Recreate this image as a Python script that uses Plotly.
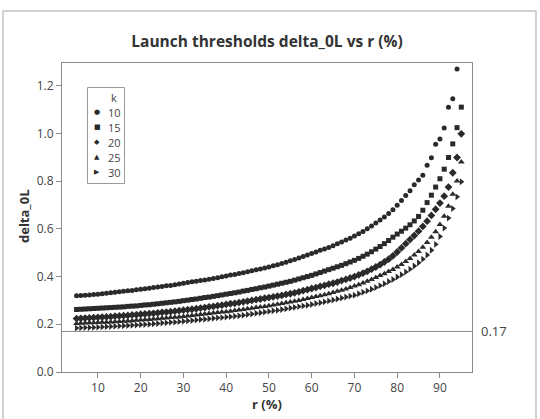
import plotly.graph_objects as go

r_values = list(range(5, 96))

k_labels = ["10", "15", "20", "25", "30"]

delta_k10 = [
    0.320, 0.321, 0.322, 0.323, 0.325, 0.326, 0.328, 0.330, 0.332, 0.334,
    0.336, 0.338, 0.340, 0.342, 0.345, 0.347, 0.349, 0.351, 0.354, 0.356,
    0.358, 0.361, 0.363, 0.366, 0.369, 0.372, 0.375, 0.378, 0.380, 0.383,
    0.386, 0.389, 0.392, 0.395, 0.399, 0.402, 0.406, 0.409, 0.413, 0.416,
    0.420, 0.424, 0.428, 0.432, 0.436, 0.440, 0.445, 0.450, 0.455, 0.460,
    0.466, 0.472, 0.478, 0.484, 0.490, 0.497, 0.503, 0.510, 0.516, 0.522,
    0.529, 0.537, 0.545, 0.553, 0.561, 0.570, 0.579, 0.589, 0.600, 0.612,
    0.624, 0.637, 0.650, 0.664, 0.680, 0.699, 0.719, 0.740, 0.760, 0.785,
    0.805, 0.825, 0.866, 0.898, 0.955, 0.977, 1.023, 1.110, 1.145, 1.270,
]

delta_k15 = [
    0.262, 0.263, 0.264, 0.265, 0.266, 0.267, 0.268, 0.269, 0.270, 0.271,
    0.272, 0.273, 0.275, 0.276, 0.277, 0.279, 0.281, 0.282, 0.284, 0.286,
    0.288, 0.290, 0.292, 0.294, 0.296, 0.299, 0.301, 0.304, 0.306, 0.309,
    0.312, 0.314, 0.317, 0.320, 0.323, 0.326, 0.329, 0.332, 0.335, 0.339,
    0.342, 0.346, 0.349, 0.353, 0.356, 0.360, 0.364, 0.368, 0.372, 0.376,
    0.380, 0.385, 0.390, 0.395, 0.400, 0.405, 0.411, 0.417, 0.423, 0.429,
    0.435, 0.441, 0.447, 0.454, 0.461, 0.468, 0.476, 0.485, 0.494, 0.504,
    0.515, 0.526, 0.538, 0.551, 0.565, 0.578, 0.590, 0.603, 0.617, 0.633,
    0.652, 0.678, 0.710, 0.741, 0.775, 0.810, 0.850, 0.899, 0.956, 1.024,
    1.110,
]

delta_k20 = [
    0.224, 0.225, 0.226, 0.227, 0.228, 0.229, 0.230, 0.231, 0.232, 0.234,
    0.235, 0.236, 0.237, 0.239, 0.240, 0.242, 0.243, 0.245, 0.246, 0.248,
    0.250, 0.251, 0.253, 0.255, 0.257, 0.259, 0.261, 0.263, 0.265, 0.268,
    0.270, 0.273, 0.275, 0.278, 0.280, 0.283, 0.286, 0.288, 0.291, 0.294,
    0.297, 0.300, 0.303, 0.306, 0.309, 0.312, 0.315, 0.318, 0.321, 0.325,
    0.328, 0.332, 0.336, 0.341, 0.345, 0.350, 0.354, 0.359, 0.363, 0.368,
    0.372, 0.377, 0.383, 0.388, 0.394, 0.400, 0.407, 0.414, 0.422, 0.431,
    0.440, 0.450, 0.461, 0.473, 0.487, 0.503, 0.520, 0.538, 0.555, 0.572,
    0.590, 0.610, 0.632, 0.656, 0.682, 0.708, 0.737, 0.775, 0.835, 0.899,
    0.998,
]

delta_k25 = [
    0.203, 0.204, 0.205, 0.206, 0.206, 0.207, 0.208, 0.209, 0.210, 0.211,
    0.212, 0.213, 0.214, 0.215, 0.217, 0.218, 0.219, 0.220, 0.222, 0.223,
    0.225, 0.226, 0.228, 0.229, 0.231, 0.233, 0.235, 0.237, 0.239, 0.241,
    0.243, 0.245, 0.247, 0.249, 0.251, 0.253, 0.255, 0.258, 0.260, 0.262,
    0.265, 0.267, 0.270, 0.272, 0.275, 0.278, 0.281, 0.284, 0.287, 0.290,
    0.293, 0.297, 0.300, 0.304, 0.308, 0.312, 0.316, 0.320, 0.324, 0.328,
    0.333, 0.338, 0.343, 0.348, 0.354, 0.360, 0.366, 0.373, 0.380, 0.388,
    0.396, 0.404, 0.412, 0.421, 0.430, 0.440, 0.451, 0.463, 0.476, 0.490,
    0.505, 0.523, 0.543, 0.565, 0.588, 0.618, 0.653, 0.695, 0.745, 0.800,
    0.880,
]

delta_k30 = [
    0.184, 0.185, 0.186, 0.186, 0.187, 0.188, 0.189, 0.190, 0.191, 0.192,
    0.193, 0.194, 0.195, 0.196, 0.197, 0.198, 0.199, 0.200, 0.202, 0.203,
    0.205, 0.206, 0.208, 0.209, 0.211, 0.213, 0.215, 0.216, 0.218, 0.220,
    0.221, 0.223, 0.225, 0.227, 0.228, 0.230, 0.232, 0.234, 0.236, 0.238,
    0.241, 0.243, 0.246, 0.248, 0.251, 0.254, 0.257, 0.259, 0.262, 0.265,
    0.268, 0.271, 0.274, 0.277, 0.280, 0.283, 0.287, 0.290, 0.294, 0.298,
    0.302, 0.306, 0.310, 0.314, 0.318, 0.322, 0.328, 0.334, 0.340, 0.347,
    0.354, 0.362, 0.370, 0.379, 0.388, 0.398, 0.408, 0.419, 0.431, 0.444,
    0.458, 0.473, 0.490, 0.510, 0.535, 0.568, 0.603, 0.645, 0.685, 0.734,
    0.797,
]

threshold = 0.17
x_ticks = [10, 20, 30, 40, 50, 60, 70, 80, 90]
y_ticks = [0.0, 0.2, 0.4, 0.6, 0.8, 1.0, 1.2]
y_tick_text = ["0.0", "0.2", "0.4", "0.6", "0.8", "1.0", "1.2"]

series = [delta_k10, delta_k15, delta_k20, delta_k25, delta_k30]
symbols = ["circle", "square", "diamond", "triangle-up", "triangle-right"]
glyphs = ["\u25CF", "\u25A0", "\u25C6", "\u25B2", "\u25B6"]
sizes = [5, 5, 6, 6, 6]

INK = "#2a2a2a"
FONT = "Open Sans"

fig = go.Figure()
for lab, ys, sym, sz in zip(k_labels, series, symbols, sizes):
    fig.add_trace(go.Scatter(
        x=r_values[:len(ys)], y=ys, mode="markers", name=lab,
        marker=dict(symbol=sym, size=sz, color=INK, line=dict(width=0)),
    ))

fig.add_hline(y=threshold, line=dict(color="#8a8a8a", width=1))

L, R, T, B = 62, 68, 63, 47
W, H = 540, 419
pw, ph = W - L - R, H - T - B


def px(x):
    return (x - L) / pw


def py(y):
    return (H - B - y) / ph


# outer graph-region border
fig.add_shape(type="rect", xref="paper", yref="paper",
              x0=px(3), x1=px(536), y0=py(428), y1=py(11),
              line=dict(color="#c4c4c4", width=1.5), layer="below")

# legend box (Minitab style, compact)
fig.add_shape(type="rect", xref="paper", yref="paper",
              x0=px(87.5), x1=px(124.5), y0=py(183.5), y1=py(87.5),
              line=dict(color="#9a9a9a", width=1), fillcolor="white")
fig.add_annotation(xref="paper", yref="paper", x=px(119), y=py(97), text="k",
                   showarrow=False, xanchor="right", yanchor="middle",
                   font=dict(family=FONT, size=11, color="#444"))
for i, (lab, g) in enumerate(zip(k_labels, glyphs)):
    yy = 112 + 15 * i
    fig.add_annotation(xref="paper", yref="paper", x=px(97), y=py(yy), text=g,
                       showarrow=False, xanchor="center", yanchor="middle",
                       font=dict(family="DejaVu Sans", size=7, color=INK))
    fig.add_annotation(xref="paper", yref="paper", x=px(106), y=py(yy), text=lab,
                       showarrow=False, xanchor="left", yanchor="middle",
                       font=dict(family=FONT, size=11, color="#444"))

fig.add_annotation(xref="paper", yref="y", x=1, y=threshold, xanchor="left",
                   yanchor="middle", xshift=7, text=str(threshold), showarrow=False,
                   font=dict(family=FONT, size=13, color="#444"))

fig.add_annotation(xref="paper", yref="paper", x=0.5, y=py(404), text="<b>r (%)</b>",
                   showarrow=False, xanchor="center", yanchor="middle",
                   font=dict(family=FONT, size=13, color="#333"))
fig.add_annotation(xref="paper", yref="paper", x=px(24), y=py(216), text="<b>delta_0L</b>",
                   showarrow=False, textangle=-90, xanchor="center", yanchor="middle",
                   font=dict(family=FONT, size=13, color="#333"))

fig.update_layout(
    width=W, height=H,
    margin=dict(l=L, r=R, t=T, b=B),
    paper_bgcolor="white", plot_bgcolor="white",
    title=dict(text="<b>Launch thresholds delta_0L vs r (%)</b>", x=0.5, xanchor="center",
               xref="paper", y=1 - 42 / H, yref="container", yanchor="middle",
               font=dict(family=FONT, size=15.5, color="#333")),
    font=dict(family=FONT, size=12, color="#444"),
    showlegend=False,
)

fig.update_xaxes(range=[1.6, 97.5], tickvals=x_ticks, ticks="outside", ticklen=5,
                 tickcolor="#8a8a8a", showline=True, linecolor="#8a8a8a", linewidth=1,
                 mirror=True, showgrid=False, zeroline=False,
                 tickfont=dict(family=FONT, size=12, color="#444"))
fig.update_yaxes(range=[0, 1.295], tickvals=y_ticks, ticktext=y_tick_text,
                 ticks="outside", ticklen=5,
                 tickcolor="#8a8a8a", showline=True, linecolor="#8a8a8a", linewidth=1,
                 mirror=True, showgrid=False, zeroline=False,
                 tickfont=dict(family=FONT, size=12, color="#444"))

fig.write_html("out.html")
